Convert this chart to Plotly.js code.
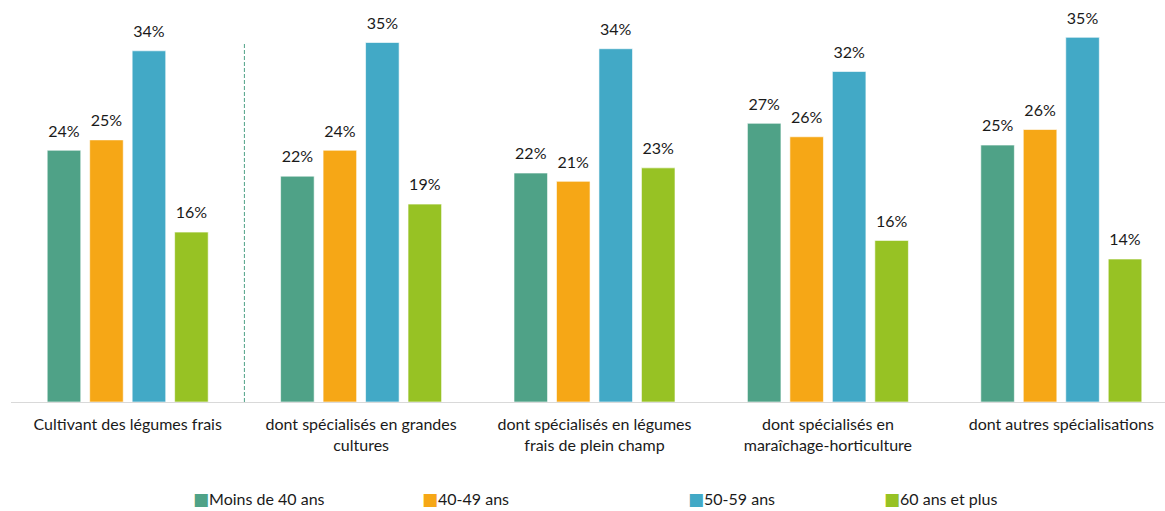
<!DOCTYPE html>
<html>
<head>
<meta charset="utf-8">
<script src="https://cdn.plot.ly/plotly-3.0.1.min.js"></script>
<style>html,body{margin:0;padding:0;background:#fff;overflow:hidden}</style>
</head>
<body>
<div id="chart"></div>
<script>
const categories = [
  "Cultivant des légumes frais",
  "dont spécialisés en grandes<br>cultures",
  "dont spécialisés en légumes<br>frais de plein champ",
  "dont spécialisés en<br>maraîchage-horticulture",
  "dont autres spécialisations"
];
const seriesNames = ["Moins de 40 ans", "40-49 ans", "50-59 ans", "60 ans et plus"];
const moins40 = [24.3, 21.8, 22.1, 26.9, 24.8];
const ans40_49 = [25.3, 24.3, 21.3, 25.6, 26.3];
const ans50_59 = [33.9, 34.7, 34.1, 31.9, 35.2];
const ans60plus = [16.4, 19.1, 22.6, 15.6, 13.8];
const colors = ["#4FA287", "#F6A716", "#42A9C6", "#97C224"];
const legendX = [191, 420, 686, 882];

const W = 1180, H = 511, ML = 11, MR = 2, MT = 10, MB = 109;
const plotW = W - ML - MR, plotH = H - MT - MB;
const font = "Lato, 'Open Sans', sans-serif";
const fsize = 16;
const gap = 0.272;

const allSeries = [moins40, ans40_49, ans50_59, ans60plus];
const bars = allSeries.map((vals, i) => ({
  type: "bar",
  name: seriesNames[i],
  x: categories,
  y: vals,
  offsetgroup: String(i),
  marker: {color: colors[i], line: {color: "rgba(255,255,255,0.6)", width: 1}},
  hoverinfo: "skip",
  showlegend: false
}));
const labels = allSeries.map((vals, i) => ({
  type: "scatter",
  mode: "markers+text",
  x: categories,
  y: vals,
  offsetgroup: String(i),
  marker: {size: 14, opacity: 0, color: colors[i]},
  text: vals.map(v => Math.round(v) + "%"),
  textposition: "top center",
  cliponaxis: false,
  textfont: {family: font, size: fsize, color: "#1a1a1a"},
  hoverinfo: "skip",
  showlegend: false
}));

const legendAnn = seriesNames.map((n, i) => ({
  xref: "paper", yref: "paper",
  x: (legendX[i] - ML) / plotW, xanchor: "left",
  y: -(499 - (H - MB)) / plotH, yanchor: "middle",
  showarrow: false,
  text: '<span style="color:' + colors[i] + ';font-family:DejaVu Sans;font-size:17px">■</span>' + n,
  font: {family: font, size: fsize, color: "#1a1a1a"}
}));

const layout = {
  width: W, height: H,
  margin: {l: ML, r: MR, t: MT, b: MB},
  paper_bgcolor: "#fff", plot_bgcolor: "#fff",
  barmode: "group",
  scattermode: "group",
  bargap: gap,
  scattergap: gap,
  bargroupgap: 0.21,
  font: {family: font, color: "#1a1a1a"},
  xaxis: {
    type: "category",
    showline: true, linecolor: "#D9D9D9", linewidth: 1,
    ticks: "", showgrid: false, zeroline: false,
    tickfont: {family: font, size: fsize, color: "#1a1a1a"},
    ticklabelstandoff: 8,
    automargin: false,
    fixedrange: true
  },
  yaxis: {
    range: [0, plotH / 10.36],
    visible: false, showgrid: false, zeroline: false, fixedrange: true
  },
  shapes: [{
    type: "line", xref: "x", yref: "y",
    x0: 0.5, x1: 0.5, y0: 0, y1: 34.7,
    line: {color: "#4FA287", width: 1, dash: "4px,2px"}
  }],
  annotations: legendAnn,
  showlegend: false
};

Plotly.newPlot("chart", bars.concat(labels), layout, {displayModeBar: false, staticPlot: true});
</script>
</body>
</html>
